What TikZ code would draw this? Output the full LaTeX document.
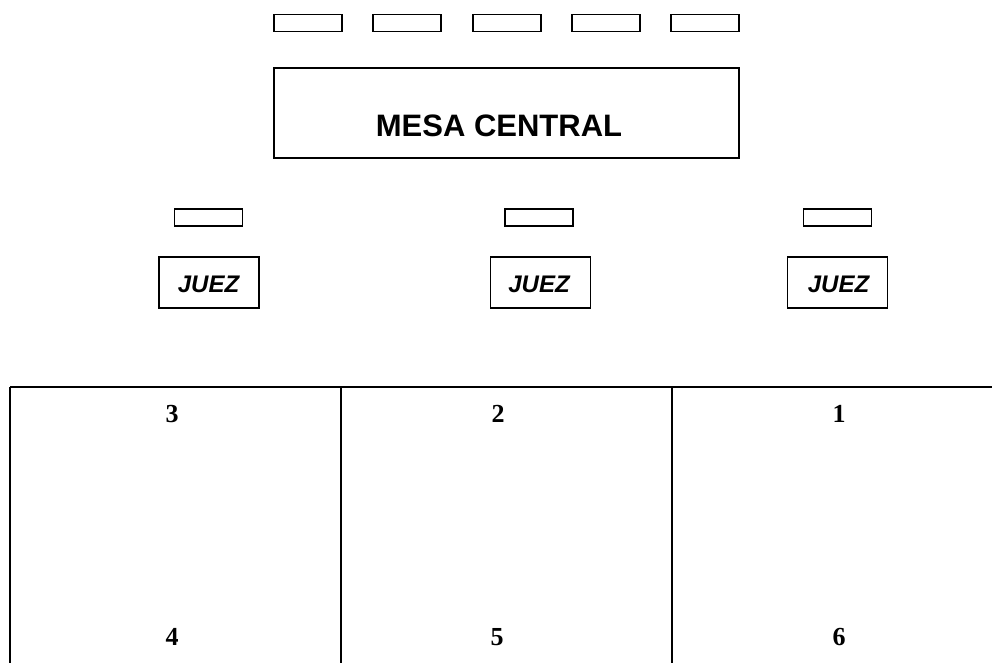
\documentclass[tikz,border=0pt]{standalone}
\usepackage{fontspec}
\setmainfont{Liberation Serif}
\newfontfamily\arialf{Liberation Sans}
\tikzset{
  seat/.style={draw, line width=1.8pt, inner sep=0pt, minimum width=68pt, minimum height=17pt},
  judgebox/.style={draw, line width=1.8pt, inner sep=0pt, minimum width=100pt, minimum height=51pt},
  judgetext/.style={anchor=base, inner sep=0pt, font=\arialf\bfseries\itshape\fontsize{24}{24}\selectfont},
  cellnum/.style={anchor=base, inner sep=0pt, font=\bfseries\fontsize{26}{26}\selectfont},
  gridline/.style={line width=1.7pt}
}
\begin{document}
\begin{tikzpicture}[x=1pt, y=-1pt]
\useasboundingbox (0,0) rectangle (992,663);
\clip (0,0) rectangle (992,663);
% top seats
\node[seat] (s1) at (308,23) {};
\node[seat] (s2) at (407,23) {};
\node[seat] (s3) at (507,23) {};
\node[seat] (s4) at (606,23) {};
\node[seat] (s5) at (705,23) {};
% mesa central
\node[draw, line width=1.8pt, inner sep=0pt, minimum width=465pt, minimum height=90pt] (mesa) at (506.5,113) {};
\node[anchor=base, inner sep=0pt, font=\arialf\bfseries\fontsize{31}{31}\selectfont] (mesatext) at (499,137) {MESA CENTRAL};
% judge seats
\node[seat] (j1s) at (208.5,217.5) {};
\node[seat] (j2s) at (539,217.5) {};
\node[seat] (j3s) at (837.5,217.5) {};
% judge boxes
\node[judgebox] (j1) at (209,282.5) {};
\node[judgebox] (j2) at (540.5,282.5) {};
\node[judgebox] (j3) at (837.5,282.5) {};
\node[judgetext] (j1t) at (208.5,292) {JUEZ};
\node[judgetext] (j2t) at (539,292) {JUEZ};
\node[judgetext] (j3t) at (838.5,292) {JUEZ};
% grid
\draw[gridline] (10,387) -- (1010,387);
\draw[gridline] (10,387) -- (10,700);
\draw[gridline] (341,387) -- (341,700);
\draw[gridline] (672,387) -- (672,700);
% numbers
\node[cellnum] (n3) at (172,422) {3};
\node[cellnum] (n2) at (498,422) {2};
\node[cellnum] (n1) at (839,422) {1};
\node[cellnum] (n4) at (172,645) {4};
\node[cellnum] (n5) at (497,645) {5};
\node[cellnum] (n6) at (839,645) {6};
\end{tikzpicture}
\end{document}
